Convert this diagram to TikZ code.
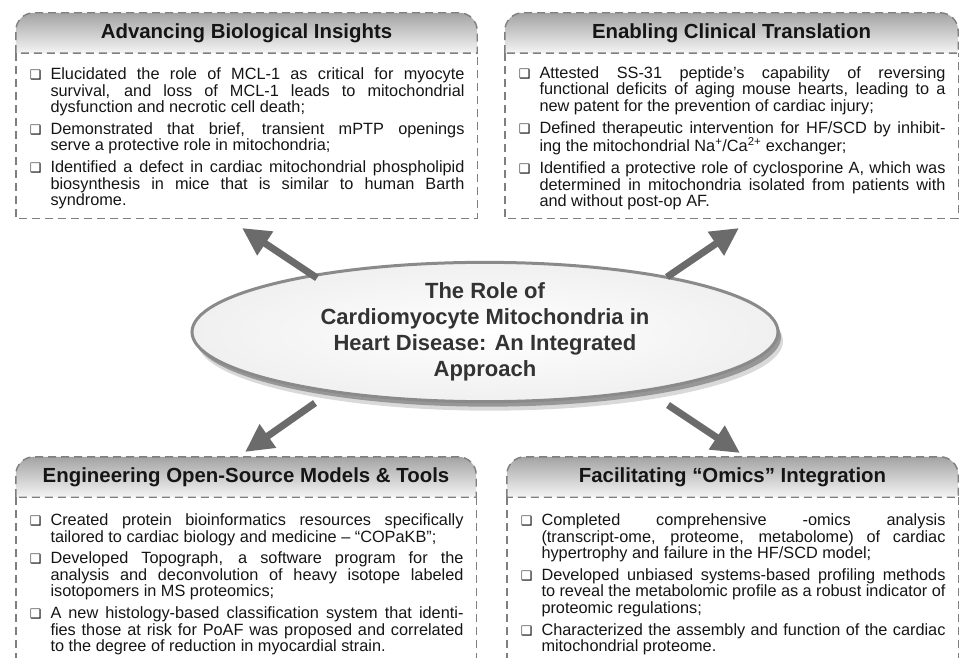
\documentclass[tikz,border=0pt]{standalone}
\usepackage{fontspec}
\setmainfont{Liberation Sans}
\newfontfamily\symfont{DejaVu Sans}
\usepackage{tikz}
\usetikzlibrary{arrows.meta,positioning,shapes.geometric,shadows,backgrounds}
\definecolor{ink}{HTML}{151515}
\definecolor{ink2}{HTML}{333333}
\definecolor{rim}{HTML}{7F7F7F}
\definecolor{headtop}{HTML}{A3A3A3}
\definecolor{headbot}{HTML}{F5F5F5}
\definecolor{arrowc}{HTML}{6B6B6B}
\definecolor{coreedge}{HTML}{8A8A8A}
\definecolor{corefill}{HTML}{F0F0F0}
\newcommand{\chkbox}{{\symfont\fontsize{13}{13}\selectfont ❑}}
\newenvironment{chklist}{\begin{list}{\chkbox}{%
  \setlength{\leftmargin}{22pt}\setlength{\labelwidth}{13pt}\setlength{\labelsep}{9pt}%
  \setlength{\itemsep}{5pt}\setlength{\parsep}{0pt}\setlength{\topsep}{0pt}\setlength{\partopsep}{0pt}}}%
  {\end{list}}
\tikzset{
  rimline/.style={draw=rim, line width=1.4pt, dash pattern=on 8pt off 5pt},
  boxhead/.style={inner sep=0pt, minimum height=40pt, font=\fontsize{20.4}{24}\selectfont\bfseries, text=ink},
  boxbody/.style={inner xsep=12.5pt, inner ysep=0pt, align=justify, font=\fontsize{16.3}{16.6}\selectfont, text=ink},
  core/.style={ellipse, minimum width=586pt, minimum height=122pt, inner sep=0pt, align=center,
    draw=coreedge, line width=3pt, inner color=white, outer color=corefill,
    font=\fontsize{22}{26}\selectfont\bfseries, text=ink2,
    drop shadow={shadow xshift=5pt, shadow yshift=-9pt, opacity=.15, fill=black},
    drop shadow={shadow xshift=3pt, shadow yshift=-5pt, opacity=.3, fill=black}},
  bigarr/.style={-{Triangle[length=28pt,width=27pt]}, line width=7pt, draw=arrowc},
}
\begin{document}
\begin{tikzpicture}[x=1pt, y=-1pt]
  \useasboundingbox (0,0) rectangle (959,658);
  \coordinate (pagebottom) at (0,658);
  % four corner boxes
  \node[boxhead, minimum width=461pt] (tl-head) at (246.5,33) {Advancing Biological Insights};
  \node[boxbody, text width=436pt, minimum height=165pt, below=0pt of tl-head] (tl-body) {\begin{chklist}
    \item Elucidated the role of MCL-1 as critical for myocyte \linebreak survival, and loss of MCL-1 leads to mitochondrial \linebreak dysfunction and necrotic cell death;
    \item Demonstrated that brief, transient mPTP openings \linebreak serve a protective role in mitochondria;
    \item Identified a defect in cardiac mitochondrial phospholipid \linebreak biosynthesis in mice that is similar to human Barth \linebreak syndrome.
  \end{chklist}};
  \node[boxhead, minimum width=453pt] (tr-head) at (731.5,33) {Enabling Clinical Translation};
  \node[boxbody, text width=428pt, minimum height=165pt, below=0pt of tr-head] (tr-body) {\begin{chklist}
    \item Attested SS-31 peptide’s capability of reversing \linebreak functional deficits of aging mouse hearts, leading to a \linebreak new patent for the prevention of cardiac injury;
    \item Defined therapeutic intervention for HF/SCD by inhibit-\linebreak ing the mitochondrial Na\textsuperscript{+}/Ca\textsuperscript{2+} exchanger;
    \item Identified a protective role of cyclosporine A, which was \linebreak determined in mitochondria isolated from patients with \linebreak and without post-op AF.
  \end{chklist}};
  \node[boxhead, minimum width=460pt] (bl-head) at (246,477) {Engineering Open-Source Models \& Tools};
  \node[boxbody, text width=435pt, minimum height=169pt, below=0pt of bl-head] (bl-body) {\begin{chklist}
    \item Created protein bioinformatics resources specifically \linebreak tailored to cardiac biology and medicine -- “COPaKB”;
    \item Developed Topograph, a software program for the \linebreak analysis and deconvolution of heavy isotope labeled \linebreak isotopomers in MS proteomics;
    \item A new histology-based classification system that identi-\linebreak fies those at risk for PoAF was proposed and correlated \linebreak to the degree of reduction in myocardial strain.
  \end{chklist}};
  \node[boxhead, minimum width=451pt] (br-head) at (732.5,477) {Facilitating “Omics” Integration};
  \node[boxbody, text width=426pt, minimum height=169pt, below=0pt of br-head] (br-body) {\begin{chklist}
    \item Completed comprehensive -omics analysis \linebreak (transcript-ome, proteome, metabolome) of cardiac \linebreak hypertrophy and failure in the HF/SCD model;
    \item Developed unbiased systems-based profiling methods \linebreak to reveal the metabolomic profile as a robust indicator of \linebreak proteomic regulations;
    \item Characterized the assembly and function of the cardiac \linebreak mitochondrial proteome.
  \end{chklist}};
  \begin{scope}[on background layer]
    \foreach \c in {tl,tr,bl,br}
      \draw[rimline, top color=headtop, bottom color=headbot] (\c-head.south west) [rounded corners=18pt] -- (\c-head.north west) -- (\c-head.north east) [sharp corners] -- (\c-head.south east) -- cycle;
    \foreach \c in {tl,tr}
      \draw[rimline] (\c-head.south west) -- (\c-body.south west) -- (\c-body.south east) -- (\c-head.south east);
    \foreach \c in {bl,br} {
      \draw[rimline] (\c-head.south west) -- (\c-head.south west |- pagebottom);
      \draw[rimline] (\c-head.south east) -- (\c-head.south east |- pagebottom);
    }
  \end{scope}
  % centre
  \node[core] (core) at (485,332) {The Role of\\Cardiomyocyte Mitochondria in\\Heart Disease: An Integrated\\Approach};
  \coordinate (tl-tail) at (317,278); \coordinate (tl-tip) at (242,228);
  \coordinate (tr-tail) at (667,277); \coordinate (tr-tip) at (739,228);
  \coordinate (bl-tail) at (315,403); \coordinate (bl-tip) at (245,452);
  \coordinate (br-tail) at (668,405); \coordinate (br-tip) at (740,453);
  \foreach \c in {tl,tr,bl,br} \draw[bigarr] (\c-tail) -- (\c-tip);
\end{tikzpicture}
\end{document}
